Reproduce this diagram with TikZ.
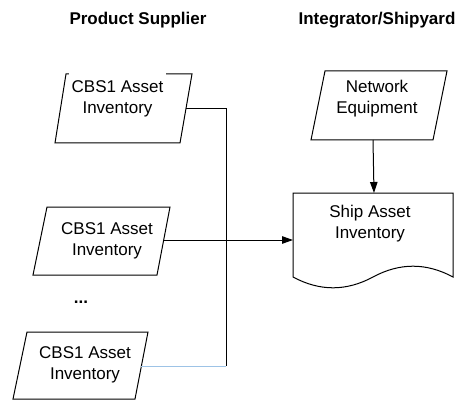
\documentclass[tikz,border=0pt]{standalone}
\usepackage{fontspec}
\setmainfont{Liberation Sans}
\usetikzlibrary{arrows.meta}
\definecolor{lblue}{HTML}{9DC3E6}
\begin{document}
\begin{tikzpicture}[x=1pt,y=-1pt,
  shapeline/.style={draw=black, line width=1pt, line join=miter},
  lbl/.style={align=center, font=\fontsize{17}{20.5}\selectfont, inner sep=0pt},
  hdr/.style={font=\fontsize{17}{20}\selectfont\bfseries, anchor=base, inner sep=0pt},
  conn/.style={draw=black, line width=1pt},
  arr/.style={conn, -{Triangle[length=11pt,width=7.5pt]}}]
\useasboundingbox (0,0) rectangle (458,401);

% headers
\node[hdr] (h1) at (138,25) {Product Supplier};
\node[hdr] (h2) at (377,25) {Integrator/Shipyard};

% parallelograms
\draw[shapeline] (66,74) -- (192,74) -- (180,143) -- (55,143) -- cycle;
\draw[shapeline] (47,207) -- (170,207) -- (157,275) -- (33,275) -- cycle;
\draw[shapeline] (27,332) -- (148,332) -- (135,399) -- (13,399) -- cycle;
\draw[shapeline] (325,71) -- (447,71) -- (433,140) -- (311,140) -- cycle;

% document shape
\draw[shapeline] (293,193) -- (453,193) -- (453,277)
  .. controls (426.3,262.6) and (399.7,262.6) .. (373,277)
  .. controls (346.3,291.4) and (319.7,291.4) .. (293,277) -- cycle;

% labels
\node[lbl, fill=white, inner xsep=3pt, inner ysep=7.5pt] (p1) at (117.5,98.7) {CBS1 Asset\\Inventory};
\node[lbl] (p2) at (107,240.7) {CBS1 Asset\\Inventory};
\node[lbl] (p3) at (85,364.7) {CBS1 Asset\\Inventory};
\node[lbl] (net) at (377,98.7) {Network\\Equipment};
\node[lbl] (ship) at (370,223.7) {Ship Asset\\Inventory};
\node[font=\fontsize{17}{20}\selectfont\bfseries, anchor=base, inner sep=0pt] (dots) at (81,303) {...};

% connector points
\coordinate (p1out) at (186,109);
\coordinate (p2out) at (163.7,240);
\coordinate (p3out) at (141.4,366);
\coordinate (j1) at (226,109);
\coordinate (j2) at (226,240);
\coordinate (j3) at (226,366);
\coordinate (docin) at (293,240);
\coordinate (netout) at (373,140);
\coordinate (doctop) at (374,193);

% connectors
\draw[conn] (p1out) -- (j1) -- (j2);
\draw[conn] (j3) -- (j2);
\draw[conn, draw=lblue] (p3out) -- (j3);
\draw[arr] (p2out) -- (docin);
\draw[arr] (netout) -- (doctop);
\end{tikzpicture}
\end{document}
